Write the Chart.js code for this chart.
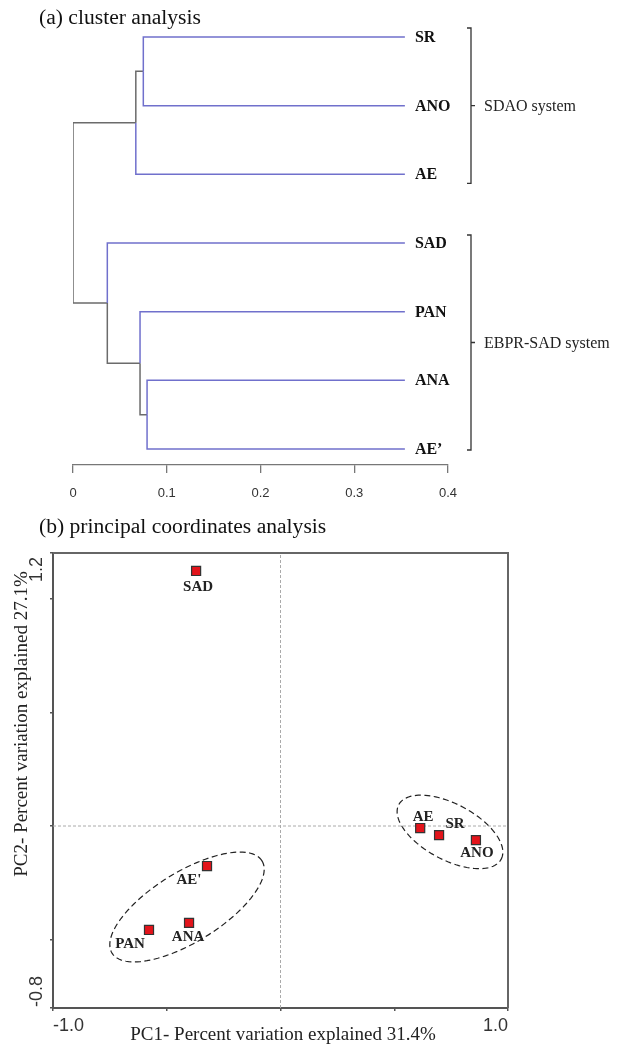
<!DOCTYPE html>
<html>
<head>
<meta charset="utf-8">
<title>Cluster analysis and PCoA</title>
<script src="https://cdn.jsdelivr.net/npm/chart.js@4.4.1/dist/chart.umd.min.js"></script>
<style>
  html, body { margin: 0; padding: 0; background: #fff; }
  body { position: relative; width: 624px; height: 1045px; overflow: hidden; }
  .panel { position: absolute; left: 0; width: 624px; }
  #panelA { top: 0; height: 515px; }
  #panelB { top: 515px; height: 530px; }
  .caption {
    position: absolute; left: 39px; margin: 0;
    font: 21.6px/1 'Liberation Serif', 'Times New Roman', serif;
    color: #111; white-space: nowrap;
  }
</style>
</head>
<body>
<div class="panel" id="panelA"><canvas id="clusterChart"></canvas></div>
<div class="panel" id="panelB"><canvas id="pcoaChart"></canvas></div>
<p class="caption" style="top:7px">(a) cluster analysis</p>
<p class="caption" style="top:516px">(b) principal coordinates analysis</p>

<script>
// ---- (a) cluster analysis ----
const leafNames = ['SR', 'ANO', 'AE', 'SAD', 'PAN', 'ANA', 'AE\u2019'];
const leafHeight = 0.354;
// merge i creates node 'm' + i
const mergeLeft = ['SR', 'ANA', 'PAN', 'm0', 'SAD', 'm3'];
const mergeRight = ['ANO', 'AE\u2019', 'm1', 'AE', 'm2', 'm4'];
const mergeHeight = [0.075, 0.079, 0.0715, 0.067, 0.0366, 0];
const clusterTicks = [0, 0.1, 0.2, 0.3, 0.4];
const groupNames = ['SDAO system', 'EBPR-SAD system'];
const groupFirst = [0, 3];
const groupLast = [2, 6];

// ---- (b) principal coordinates analysis ----
const sampleNames = ['SAD', "AE'", 'ANA', 'PAN', 'AE', 'SR', 'ANO'];
const pc1 = [-0.371, -0.323, -0.402, -0.578, 0.614, 0.697, 0.859];
const pc2 = [1.121, -0.176, -0.426, -0.457, -0.009, -0.040, -0.062];
const pcoaXTicks = [-1, -0.5, 0, 0.5, 1];
const pcoaYTicks = [-0.8, -0.5, 0, 0.5, 1.0, 1.2];
const ellipseCx = [-0.411, 0.745];
const ellipseCy = [-0.356, -0.026];
const ellipseA = [0.387, 0.255];
const ellipseB = [0.154, 0.123];
const ellipseAngle = [31.6, -28];

const SERIF = "'Liberation Serif', 'Times New Roman', serif";
const SANS = "'Liberation Sans', Arial, sans-serif";
const BLUE = '#7070cc';
const GRAY = '#6b6b6b';

// label offsets in px from the point (dx, dy)
const labelOffsets = [[2, 16], [-18, 14], [-1, 14], [-19, 14], [3, -11], [16, -11], [1, 13]];
// bracket padding in px above first / below last leaf
const bracketPads = [[9, 9], [8, 1]];

function buildDendrogram() {
  const nodes = {};
  leafNames.forEach((name, i) => { nodes[name] = { x: leafHeight, y: i, leaf: true }; });
  const edges = [];
  mergeHeight.forEach((h, i) => {
    const a = nodes[mergeLeft[i]];
    const b = nodes[mergeRight[i]];
    const y = (a.y + b.y) / 2;
    [a, b].forEach((child) => {
      edges.push({
        color: child.leaf ? BLUE : GRAY,
        points: [{ x: h, y }, { x: h, y: child.y }, { x: child.x, y: child.y }],
      });
    });
    nodes['m' + i] = { x: h, y, leaf: false };
  });
  return edges;
}

const clusterOverlay = {
  id: 'clusterOverlay',
  afterDatasetsDraw(chart) {
    const { ctx, scales, chartArea } = chart;
    const xs = scales.x;
    const ys = scales.y;
    ctx.save();
    ctx.fillStyle = '#111';
    ctx.font = `bold 16px ${SERIF}`;
    ctx.textBaseline = 'middle';
    ctx.textAlign = 'left';
    const labelX = xs.getPixelForValue(leafHeight) + 10;
    leafNames.forEach((name, i) => {
      ctx.fillText(name, labelX, ys.getPixelForValue(i) + 1);
    });

    const bx = chartArea.right + 23;
    ctx.strokeStyle = '#333';
    ctx.lineWidth = 1.3;
    ctx.font = `16px ${SERIF}`;
    ctx.fillStyle = '#222';
    groupNames.forEach((name, g) => {
      const top = ys.getPixelForValue(groupFirst[g]) - bracketPads[g][0];
      const bottom = ys.getPixelForValue(groupLast[g]) + bracketPads[g][1];
      const mid = (top + bottom) / 2;
      ctx.beginPath();
      ctx.moveTo(bx - 4, top);
      ctx.lineTo(bx, top);
      ctx.lineTo(bx, bottom);
      ctx.lineTo(bx - 4, bottom);
      ctx.moveTo(bx, mid);
      ctx.lineTo(bx + 4, mid);
      ctx.stroke();
      ctx.fillText(name, bx + 13, mid + 1);
    });
    ctx.restore();
  },
};

new Chart(document.getElementById('clusterChart'), {
  type: 'scatter',
  data: {
    datasets: buildDendrogram().map((edge) => ({
      data: edge.points,
      showLine: true,
      borderColor: edge.color,
      borderWidth: 1.5,
      pointRadius: 0,
      fill: false,
    })),
  },
  options: {
    responsive: true,
    maintainAspectRatio: false,
    animation: false,
    layout: { padding: { left: 73, right: 176, top: 21, bottom: 0 } },
    plugins: { legend: { display: false }, tooltip: { enabled: false } },
    scales: {
      x: {
        type: 'linear',
        min: 0,
        max: 0.4,
        afterBuildTicks: (scale) => { scale.ticks = clusterTicks.map((value) => ({ value })); },
        afterFit: (scale) => { scale.height = 50; },
        grid: { drawOnChartArea: false, tickLength: 8, color: '#777', lineWidth: 1.3 },
        border: { color: '#777', width: 1.3 },
        ticks: {
          color: '#333',
          padding: 13,
          maxRotation: 0,
          font: { family: SANS, size: 13 },
          callback: (v) => (v === 0 ? '0' : v.toFixed(1)),
        },
      },
      y: {
        type: 'linear',
        reverse: true,
        min: -0.233,
        max: 6.233,
        display: false,
      },
    },
  },
  plugins: [clusterOverlay],
});

const pcoaOverlay = {
  id: 'pcoaOverlay',
  beforeDatasetsDraw(chart) {
    const { ctx, scales } = chart;
    const xs = scales.x;
    const ys = scales.y;
    ctx.save();
    ctx.strokeStyle = '#222';
    ctx.lineWidth = 1.2;
    ctx.setLineDash([6, 3.5]);
    ellipseCx.forEach((cx, i) => {
      const th = ellipseAngle[i] * Math.PI / 180;
      ctx.beginPath();
      for (let k = 0; k <= 120; k++) {
        const t = (k / 120) * Math.PI * 2;
        const ex = cx + ellipseA[i] * Math.cos(th) * Math.cos(t) - ellipseB[i] * Math.sin(th) * Math.sin(t);
        const ey = ellipseCy[i] + ellipseA[i] * Math.sin(th) * Math.cos(t) + ellipseB[i] * Math.cos(th) * Math.sin(t);
        const px = xs.getPixelForValue(ex);
        const py = ys.getPixelForValue(ey);
        if (k === 0) ctx.moveTo(px, py); else ctx.lineTo(px, py);
      }
      ctx.closePath();
      ctx.stroke();
    });
    ctx.restore();
  },
  afterDatasetsDraw(chart) {
    const { ctx, scales, chartArea } = chart;
    const xs = scales.x;
    const ys = scales.y;
    ctx.save();
    // top and right frame
    ctx.strokeStyle = '#666';
    ctx.lineWidth = 2;
    ctx.beginPath();
    ctx.moveTo(chartArea.left, chartArea.top);
    ctx.lineTo(chartArea.right, chartArea.top);
    ctx.lineTo(chartArea.right, chartArea.bottom);
    ctx.stroke();

    // sample labels
    ctx.fillStyle = '#222';
    ctx.font = `bold 15px ${SERIF}`;
    ctx.textAlign = 'center';
    ctx.textBaseline = 'middle';
    sampleNames.forEach((name, i) => {
      const px = xs.getPixelForValue(pc1[i]) + labelOffsets[i][0];
      const py = ys.getPixelForValue(pc2[i]) + labelOffsets[i][1];
      ctx.fillText(name, px, py);
    });

    // y extreme labels, rotated
    ctx.fillStyle = '#333';
    ctx.font = `18px ${SANS}`;
    const yLabels = [
      [pcoaYTicks[pcoaYTicks.length - 1], '1.2', 'right', 4],
      [pcoaYTicks[0], '-0.8', 'left', -1],
    ];
    yLabels.forEach(([v, text, align, shift]) => {
      ctx.save();
      ctx.translate(37, ys.getPixelForValue(v) + shift);
      ctx.rotate(-Math.PI / 2);
      ctx.textAlign = align;
      ctx.fillText(text, 0, 0);
      ctx.restore();
    });

    // axis titles
    ctx.fillStyle = '#222';
    ctx.font = `19px ${SERIF}`;
    ctx.textAlign = 'center';
    ctx.fillText('PC1- Percent variation explained 31.4%', 283, 520);
    ctx.save();
    ctx.translate(22, 209);
    ctx.rotate(-Math.PI / 2);
    ctx.fillText('PC2- Percent variation explained 27.1%', 0, 0);
    ctx.restore();
    ctx.restore();
  },
};

new Chart(document.getElementById('pcoaChart'), {
  type: 'scatter',
  data: {
    datasets: [
      {
        data: pc1.map((x, i) => ({ x, y: pc2[i] })),
        pointStyle: 'rect',
        pointRadius: 6.4,
        backgroundColor: '#e3141b',
        borderColor: '#333',
        borderWidth: 1.2,
        order: 0,
      },
      {
        data: [{ x: 0, y: pcoaYTicks[0] }, { x: 0, y: pcoaYTicks[pcoaYTicks.length - 1] }],
        showLine: true,
        pointRadius: 0,
        borderColor: '#aaa',
        borderWidth: 1,
        borderDash: [3, 2],
        order: 1,
      },
      {
        data: [{ x: pcoaXTicks[0], y: 0 }, { x: pcoaXTicks[pcoaXTicks.length - 1], y: 0 }],
        showLine: true,
        pointRadius: 0,
        borderColor: '#aaa',
        borderWidth: 1,
        borderDash: [3, 2],
        order: 1,
      },
    ],
  },
  options: {
    responsive: true,
    maintainAspectRatio: false,
    animation: false,
    layout: { padding: { left: 0, right: 116, top: 38, bottom: 0 } },
    plugins: { legend: { display: false }, tooltip: { enabled: false } },
    scales: {
      x: {
        type: 'linear',
        min: -1,
        max: 1,
        afterBuildTicks: (scale) => { scale.ticks = pcoaXTicks.map((value) => ({ value })); },
        afterFit: (scale) => { scale.height = 37; },
        grid: { drawOnChartArea: false, tickLength: 3, color: '#555', lineWidth: 1.5 },
        border: { color: '#555', width: 2 },
        ticks: {
          align: 'inner',
          color: '#333',
          padding: 4,
          maxRotation: 0,
          autoSkip: false,
          font: { family: SANS, size: 18 },
          callback: (v) => (v === -1 ? '-1.0' : v === 1 ? '1.0' : ''),
        },
      },
      y: {
        type: 'linear',
        min: -0.8,
        max: 1.2,
        afterBuildTicks: (scale) => { scale.ticks = pcoaYTicks.map((value) => ({ value })); },
        afterFit: (scale) => { scale.width = 53; },
        grid: { drawOnChartArea: false, tickLength: 3, color: '#555', lineWidth: 1.5 },
        border: { color: '#555', width: 2 },
        ticks: { display: false },
      },
    },
  },
  plugins: [pcoaOverlay],
});
</script>
</body>
</html>
